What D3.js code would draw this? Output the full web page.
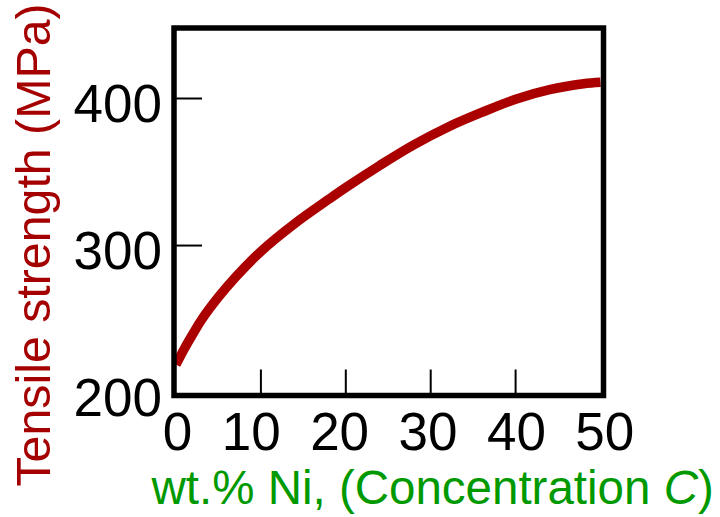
<!DOCTYPE html>
<html>
<head>
<meta charset="utf-8">
<script src="https://cdn.jsdelivr.net/npm/d3@7"></script>
<style>
  html, body { margin: 0; padding: 0; background: #fff; }
  svg { display: block; }
</style>
</head>
<body>
<script>
// ---- data ----
const concentration = [0, 1, 2, 3, 5, 7, 10, 14, 18, 20, 24, 28, 32, 36, 40, 44, 48, 50];
const tensileStrength = [219, 230, 240, 249.5, 265, 278.5, 296, 315, 331.5, 339.5, 354.5, 368.5, 380.5, 390.5, 399.5, 406, 410, 411];
const xTickValues = [10, 20, 30, 40];
const xTickLabels = ["0", "10", "20", "30", "40", "50"];
const yTickValues = [300, 400];
const yTickLabels = ["200", "300", "400"];
const yTitle = "Tensile strength (MPa)";
const xTitleMain = "wt.% Ni, (Concentration ";
const xTitleVar = "C";
const xTitleEnd = ")";

// ---- layout ----
const W = 720, H = 517;
const box = { left: 174, right: 603.5, top: 28, bottom: 395.5 };
const font = "'Liberation Sans', Arial, Helvetica, sans-serif";

const x = d3.scaleLinear().domain([0, 50]).range([176, 600.5]);
const y = d3.scaleLinear().domain([200, 400]).range([392.6, 98.5]);

const svg = d3.select("body").append("svg")
  .attr("width", W).attr("height", H)
  .attr("viewBox", `0 0 ${W} ${H}`);

// curve
const data = concentration.map((c, i) => ({ c, v: tensileStrength[i] }));
svg.append("path")
  .datum(data)
  .attr("fill", "none")
  .attr("stroke", "#aa0000")
  .attr("stroke-width", 9.5)
  .attr("stroke-linecap", "butt")
  .attr("d", d3.line().x(d => x(d.c)).y(d => y(d.v)).curve(d3.curveCatmullRom.alpha(0.5)));

// inward ticks
svg.append("g").selectAll("line").data(yTickValues).join("line")
  .attr("x1", box.left).attr("x2", box.left + 28)
  .attr("y1", d => y(d)).attr("y2", d => y(d))
  .attr("stroke", "#000").attr("stroke-width", 2);

svg.append("g").selectAll("line").data(xTickValues).join("line")
  .attr("x1", d => x(d)).attr("x2", d => x(d))
  .attr("y1", box.bottom).attr("y2", box.bottom - 26)
  .attr("stroke", "#000").attr("stroke-width", 2);

// frame
svg.append("rect")
  .attr("x", box.left).attr("y", box.top)
  .attr("width", box.right - box.left).attr("height", box.bottom - box.top)
  .attr("fill", "none").attr("stroke", "#000").attr("stroke-width", 5.5);

// y tick labels
const yLabelValues = yTickLabels.map(Number);
svg.append("g").selectAll("text").data(yTickLabels).join("text")
  .attr("x", box.left - 12)
  .attr("y", (d, i) => y(yLabelValues[i]) + 23.5)
  .attr("text-anchor", "end")
  .attr("font-family", font).attr("font-size", 53)
  .attr("fill", "#000")
  .text(d => d);

// x tick labels: one line of text, each label its own tspan
const xl = svg.append("text")
  .attr("x", x(0) - 13.2).attr("y", 450)
  .attr("font-family", font).attr("font-size", 53)
  .attr("fill", "#000")
  .style("white-space", "pre");
xTickLabels.forEach((t, i) => {
  xl.append("tspan").text(i === 0 ? t : "\u00a0\u00a0" + t);
});

// y title
svg.append("text")
  .attr("transform", `translate(50, 245) rotate(-90)`)
  .attr("text-anchor", "middle")
  .attr("font-family", font).attr("font-size", 48.3)
  .attr("fill", "#a50000")
  .text(yTitle);

// x title
const xt = svg.append("text")
  .attr("x", 151.5).attr("y", 504)
  .attr("font-family", font).attr("font-size", 47.5)
  .attr("fill", "#009900");
xt.append("tspan").text(xTitleMain);
xt.append("tspan").attr("font-style", "italic").text(xTitleVar);
xt.append("tspan").text(xTitleEnd);
</script>
</body>
</html>
